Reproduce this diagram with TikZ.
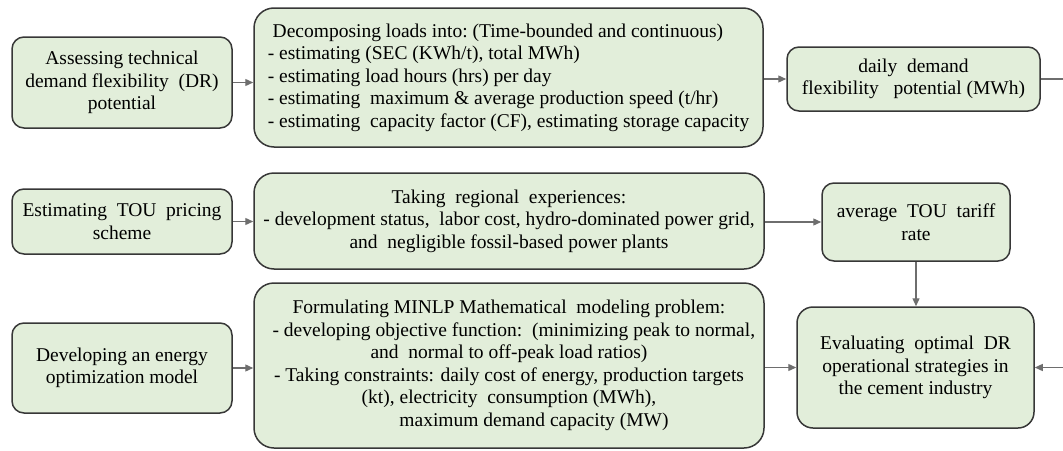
\documentclass[tikz,border=0pt]{standalone}
\usepackage{fontspec}
\setmainfont{Liberation Serif}
\newfontfamily\boxfont{Liberation Serif}
\usetikzlibrary{arrows.meta,calc}
\definecolor{boxfill}{RGB}{226,238,218}
\definecolor{boxline}{RGB}{55,55,55}
\definecolor{arrowgray}{RGB}{110,110,110}
\tikzset{
  box/.style={draw=boxline, line width=1.5pt, fill=boxfill, rounded corners=12pt,
    inner sep=0pt, font=\boxfont\fontsize{19.5}{22.5}\selectfont, align=center},
  bigbox/.style={box, rounded corners=20pt},
  arr/.style={draw=arrowgray, line width=1.3pt,
    -{Triangle[length=8pt,width=7pt]}},
}
\begin{document}
\begin{tikzpicture}[x=1pt,y=-1pt]
\useasboundingbox (0,0) rectangle (1063,450);
\clip (0,0) rectangle (1063,450);

% row 1: technical flexibility
\node[box, minimum width=220pt, minimum height=91pt] (A1) at (122,82.5)
  {Assessing technical\\demand flexibility\ \ (DR)\\potential};
\node[bigbox, minimum width=509pt, minimum height=139pt, align=left] (B1) at (508.5,77.5)
  {\ Decomposing loads into:\ (Time-bounded\ and\ continuous)\\
   - estimating (SEC (KWh/t), total MWh)\\
   - estimating load hours (hrs) per day\\
   - estimating\ \ maximum \& average production speed (t/hr)\\
   - estimating\ \ capacity factor (CF), estimating storage capacity};
\node[box, minimum width=253pt, minimum height=64pt] (C1) at (913.5,79)
  {daily\ \ demand\\flexibility\ \ \ potential (MWh)};

% row 2: pricing
\node[box, minimum width=220pt, minimum height=65pt] (A2) at (122,221.5)
  {Estimating\ \ TOU\ \ pricing\\scheme};
\node[bigbox, minimum width=510pt, minimum height=96pt] (B2) at (509,221)
  {Taking\ \ regional\ \ experiences:\\
   - development status,\ \ labor cost, hydro-dominated power grid,\\
   and\ \ negligible fossil-based power plants};
\node[box, minimum width=188pt, minimum height=78pt] (C2) at (916,222)
  {average\ \ TOU\ \ tariff\\rate};

% row 3: optimisation model
\node[box, minimum width=220pt, minimum height=90pt] (A3) at (122,368)
  {Developing an energy\\optimization model};
\node[bigbox, minimum width=510pt, minimum height=165pt] (B3) at (509,365.5)
  {Formulating MINLP Mathematical\ \ modeling problem:\\
   \ \ - developing objective function:\ \ (minimizing peak to normal,\\
   and\ \ normal to off-peak load ratios)\hspace{40pt}\\
   - Taking constraints: daily cost of energy, production targets\\
   (kt), electricity\ \ consumption (MWh),\hspace{42pt}\\
   \hspace{50pt}maximum demand capacity (MW)};
\node[box, rounded corners=16pt, minimum width=237pt, minimum height=121pt] (D3) at (915.5,367.5)
  {Evaluating\ \ optimal\ \ DR\\operational strategies in\\the cement industry};

% connectors
\draw[arr] (A1.east) -- (A1.east -| B1.west);
\draw[arr] (C1.west -| B1.east) -- (C1.west);
\draw[arr] (A2.east) -- (A2.east -| B2.west);
\draw[arr] (B2.east |- C2.west) -- (C2.west);
\draw[arr] (C2.south) -- (C2.south |- D3.north);
\draw[arr] (A3.east) -- (A3.east -| B3.west);
\draw[arr] (B3.east |- D3.west) -- (D3.west);
% feedback loop from the flexibility potential, routed past the right edge
\draw[arr] (C1.east) -- ++(40,0) |- (D3.east);
\end{tikzpicture}
\end{document}
